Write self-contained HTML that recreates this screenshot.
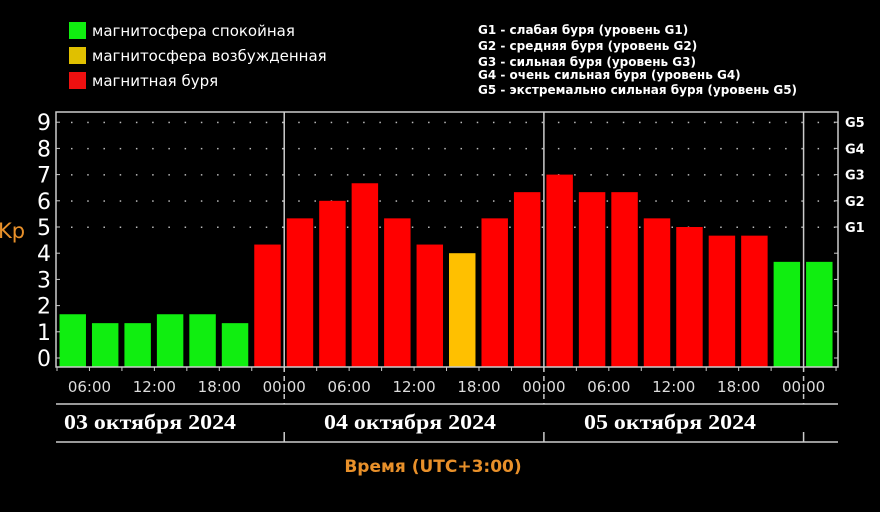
<!DOCTYPE html>
<html><head><meta charset="utf-8"><style>
html,body{margin:0;padding:0;background:#000;width:880px;height:512px;overflow:hidden}
svg{display:block}
text{font-family:"DejaVu Sans","Liberation Sans",sans-serif}
</style></head><body>
<svg id="chart" width="880" height="512" viewBox="0 0 880 512">
<rect width="880" height="512" fill="#000"/>
<g>
<rect x="69" y="22" width="17" height="17" fill="#10ee10"/>
<text x="92" y="36" fill="#fff" font-size="15">магнитосфера спокойная</text>
<rect x="69" y="47" width="17" height="17" fill="#e0c000"/>
<text x="92" y="61" fill="#fff" font-size="15">магнитосфера возбужденная</text>
<rect x="69" y="72" width="17" height="17" fill="#ee1010"/>
<text x="92" y="86" fill="#fff" font-size="15">магнитная буря</text>
</g>
<g fill="#fff" font-size="12" font-weight="bold">
<text x="478" y="34">G1 - слабая буря (уровень G1)</text>
<text x="478" y="50">G2 - средняя буря (уровень G2)</text>
<text x="478" y="66">G3 - сильная буря (уровень G3)</text>
<text x="478" y="79">G4 - очень сильная буря (уровень G4)</text>
<text x="478" y="94">G5 - экстремально сильная буря (уровень G5)</text>
</g>
<text x="-2" y="238" fill="#e8902a" font-size="21">Kp</text>
<text x="433" y="472" fill="#e8902a" font-size="17" font-weight="bold" text-anchor="middle">Время (UTC+3:00)</text>
<g id="grid"></g>
<g id="bars"></g>
<g id="axes"></g>
</svg>
<script>
const kpValues = [1.67,1.33,1.33,1.67,1.67,1.33,4.33, 5.33,6,6.67,5.33,4.33,4,5.33,6.33, 7,6.33,6.33,5.33,5,4.67,4.67,3.67, 3.67];
const kpStatus = ['q','q','q','q','q','q','s', 's','s','s','s','s','d','s','s', 's','s','s','s','s','s','s','q', 'q'];
const yTicks = ['0','1','2','3','4','5','6','7','8','9'];
const gLabels = ['G1','G2','G3','G4','G5'];
const xTickLabels = ['06:00','12:00','18:00','00:00','06:00','12:00','18:00','00:00','06:00','12:00','18:00','00:00'];
const dayLabels = ['03 октября 2024','04 октября 2024','05 октября 2024'];

const NS='http://www.w3.org/2000/svg';
const L=56,R=838,T=112,B=367,Y0=358,UNIT=26.2,X0=57,PITCH=32.46;
const y=v=>Y0-v*UNIT;
const x=i=>X0+i*PITCH;
const colors={q:'#10ee10',d:'#ffc000',s:'#ff0000'};
function mk(tag,attrs,parent){const e=document.createElementNS(NS,tag);for(const k in attrs)e.setAttribute(k,attrs[k]);parent.appendChild(e);return e;}
const grid=document.getElementById('grid'),bars=document.getElementById('bars'),axes=document.getElementById('axes');
for(let v=5;v<=9;v++){for(let i=0;i<=kpValues.length*2;i++){const d=mk('rect',{x:X0+i*PITCH/2+14,y:y(v)-0.5,width:1.5,height:1.5,fill:'#bbb'},grid);

}}
kpValues.forEach((v,i)=>{const r=mk('rect',{x:x(i)+2.5,y:y(v),width:PITCH-6,height:B-y(v),fill:colors[kpStatus[i]]},bars);

});
const f=mk('rect',{x:L,y:T,width:R-L,height:B-T,fill:'none',stroke:'#ccc','stroke-width':1.5},axes);


yTicks.forEach((t,i)=>{const tx=mk('text',{x:44,y:y(i)+8,fill:'#fff','font-size':22,'text-anchor':'middle'},axes);tx.textContent=t;


mk('line',{x1:L,x2:L+4,y1:y(i),y2:y(i),stroke:'#ccc'},axes);
mk('line',{x1:R-4,x2:R,y1:y(i),y2:y(i),stroke:'#ccc'},axes);});
gLabels.forEach((g,i)=>{const tx=mk('text',{x:845,y:y(i+5)+5,fill:'#fff','font-size':13,'font-weight':'bold'},axes);tx.textContent=g;

});
for(let i=0;i<=kpValues.length;i++){mk('line',{x1:x(i),x2:x(i),y1:B,y2:B+4,stroke:'#ccc'},axes);}
xTickLabels.forEach((t,i)=>{const tx=mk('text',{x:x(1+i*2),y:392,fill:'#ddd','font-size':15,'text-anchor':'middle'},axes);tx.textContent=t;

});
[7,15,23].forEach(i=>{const ln=mk('line',{x1:x(i),x2:x(i),y1:T,y2:B,stroke:'#ccc','stroke-width':1.5},axes);


mk('line',{x1:x(i),x2:x(i),y1:B,y2:404,stroke:'#ccc','stroke-width':1.5,'stroke-dasharray':'5 4'},axes);
mk('line',{x1:x(i),x2:x(i),y1:432,y2:442,stroke:'#ccc','stroke-width':1.5},axes);});
mk('line',{x1:L,x2:R,y1:404,y2:404,stroke:'#ccc','stroke-width':1.5},axes);
mk('line',{x1:L,x2:R,y1:442,y2:442,stroke:'#ccc','stroke-width':1.5},axes);
[150,410,670].forEach((px,i)=>{const tx=mk('text',{x:px,y:429,fill:'#fff','font-size':21,'font-weight':'bold','text-anchor':'middle',textLength:172,lengthAdjust:'spacingAndGlyphs',style:'font-family:"Liberation Serif","DejaVu Serif",serif'},axes);tx.textContent=dayLabels[i];

});
</script>
</body></html>
